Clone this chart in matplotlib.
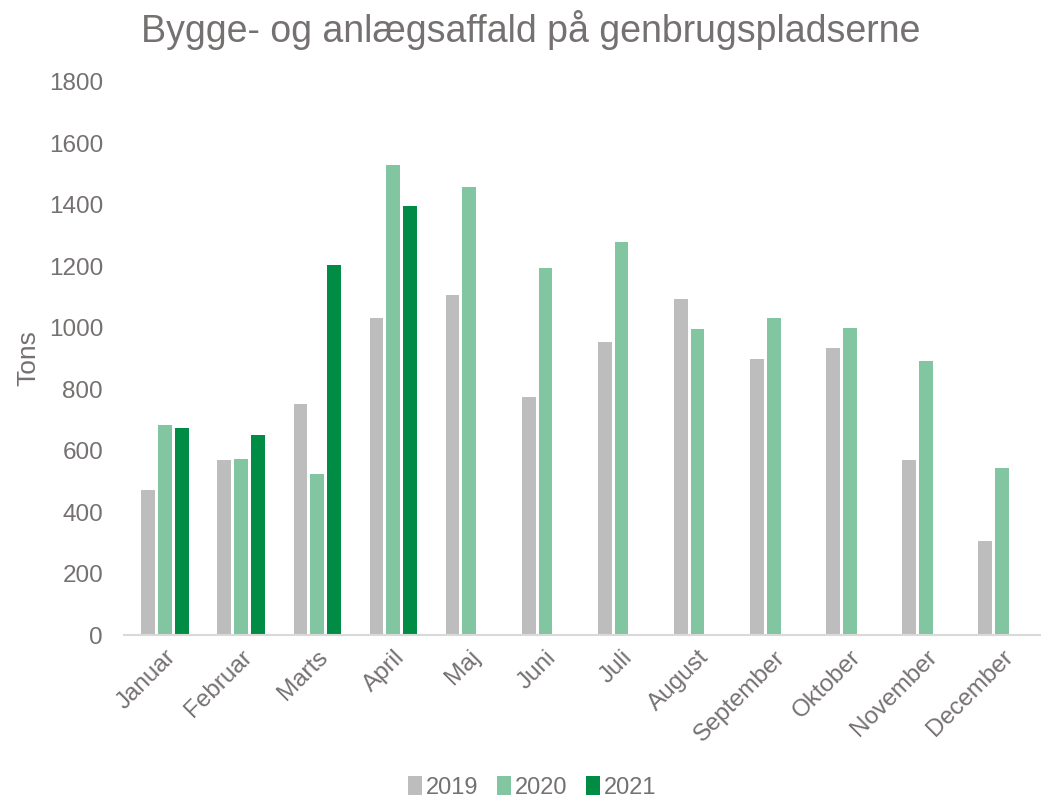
import numpy as np
import matplotlib.pyplot as plt

plt.rcParams['font.family'] = ['Liberation Sans', 'DejaVu Sans']

months = ['Januar', 'Februar', 'Marts', 'April', 'Maj', 'Juni', 'Juli',
          'August', 'September', 'Oktober', 'November', 'December']
v2019 = [471, 571, 752, 1032, 1105, 774, 954, 1092, 899, 934, 569, 306]
v2020 = [683, 573, 524, 1528, 1457, 1195, 1277, 997, 1030, 999, 893, 543]
v2021 = [675, 652, 1205, 1397]

grey_txt = '#757171'
colors = ['#BDBDBD', '#82C5A1', '#008C45']

fig = plt.figure(figsize=(10.41, 8), dpi=100)
ax = fig.add_axes([0.119, 0.206, 0.88, 0.692])

x = np.arange(len(months))
pitch = 0.22
w = 0.18
ax.bar(x - pitch, v2019, w, color=colors[0], label='2019')
ax.bar(x, v2020, w, color=colors[1], label='2020')
ax.bar(x[:len(v2021)] + pitch, v2021, w, color=colors[2], label='2021')

ax.set_xlim(-0.54, 11.5)
ax.set_ylim(0, 1800)
ax.set_yticks(range(0, 1801, 200))
ax.set_xticks(x)
ax.set_xticklabels(months, rotation=45, ha='right', rotation_mode='anchor')
ax.tick_params(axis='both', length=0, labelsize=17.5, colors=grey_txt)
ax.tick_params(axis='y', pad=15)
ax.tick_params(axis='x', pad=8)

for s in ['top', 'right', 'left']:
    ax.spines[s].set_visible(False)
ax.spines['bottom'].set_color('#D9D9D9')
ax.spines['bottom'].set_linewidth(1.5)

ax.set_ylabel('Tons', fontsize=19, color=grey_txt, labelpad=6)
fig.text(0.51, 0.962, 'Bygge- og anlægsaffald på genbrugspladserne',
         ha='center', va='center', fontsize=27, color=grey_txt)

leg = fig.legend(loc='lower center', bbox_to_anchor=(0.511, -0.025), ncol=3,
                 frameon=False, fontsize=17, handlelength=0.6, handleheight=0.9,
                 handletextpad=0.15, columnspacing=0.8)
for t in leg.get_texts():
    t.set_color(grey_txt)

fig.savefig('out.png', dpi=100)
